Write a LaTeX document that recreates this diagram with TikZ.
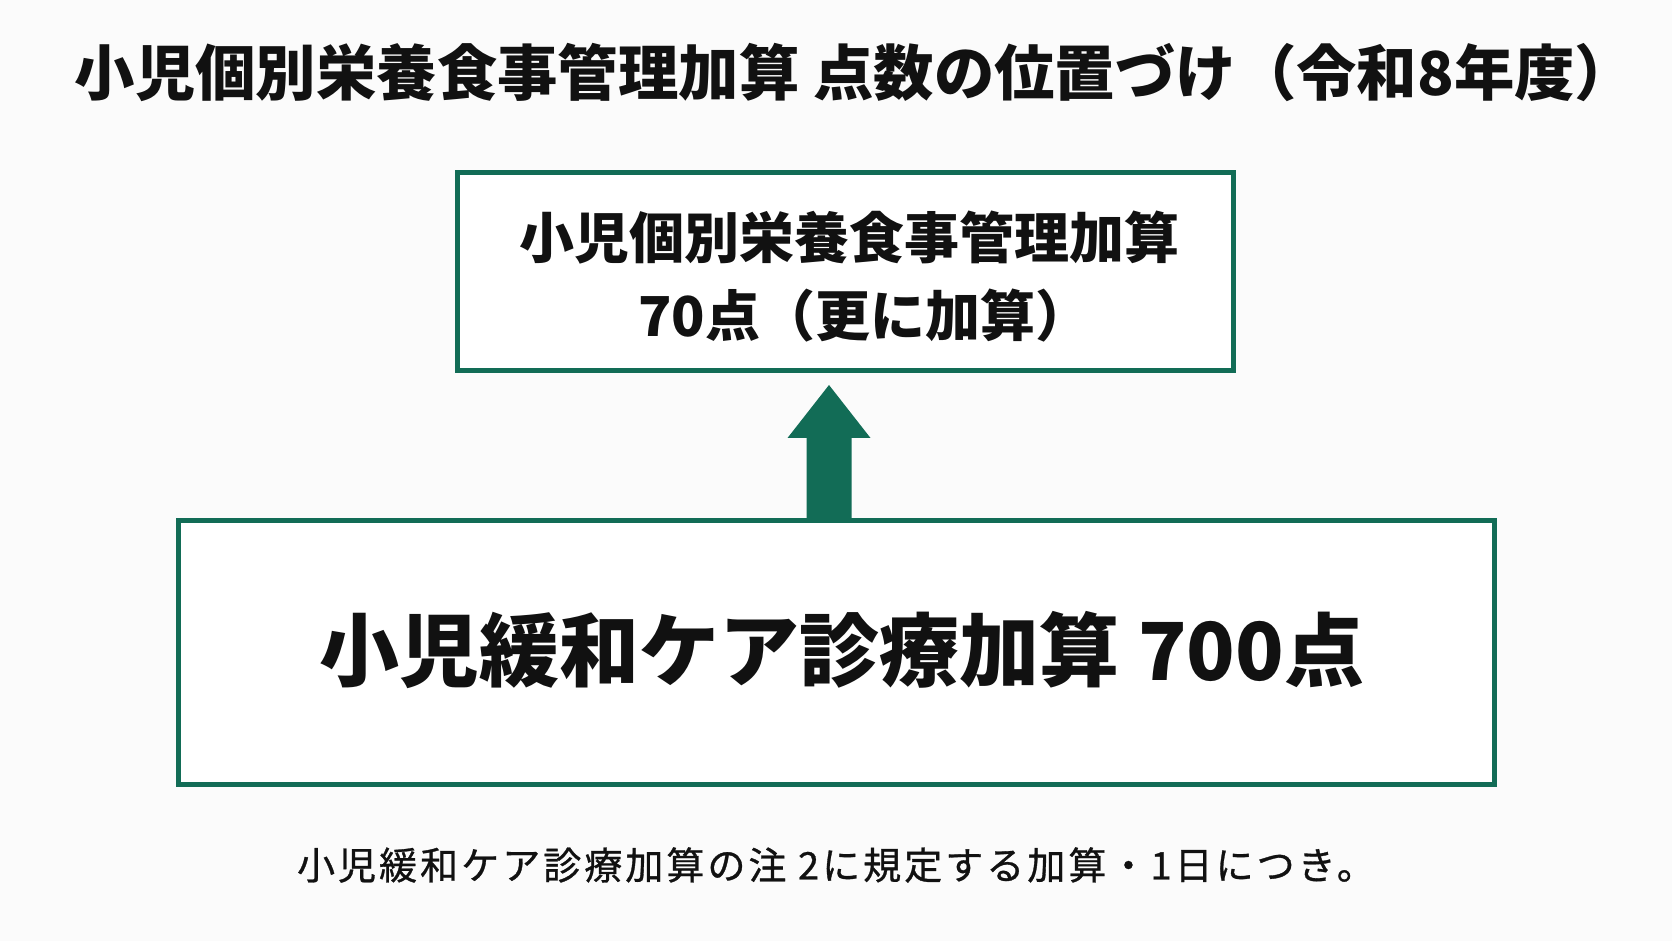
\documentclass[tikz,border=0pt]{standalone}
\usepackage{fontspec}
\usetikzlibrary{calc}
\setmainfont{Noto Sans CJK JP}
\newfontfamily\cjk{Noto Sans CJK JP}
\newfontfamily\cjkfoot[LetterSpace=8,FakeBold=0.8]{Noto Sans CJK JP}
\definecolor{boxgreen}{RGB}{18,108,86}
\definecolor{bgcol}{RGB}{251,251,251}
\definecolor{txt}{RGB}{17,17,17}
\tikzset{
  gbox/.style={draw=boxgreen, line width=2.5pt, fill=white, inner sep=0pt},
  label/.style={text=txt, inner sep=0pt, align=center},
}
\begin{document}
\begin{tikzpicture}[x=0.5pt,y=-0.5pt]
\fill[bgcol] (0,0) rectangle (1672,941);
\useasboundingbox (0,0) rectangle (1672,941);

% title
\node[label, font=\cjk\bfseries\fontsize{30.2pt}{34pt}\selectfont] (title) at (855,72)
  {小児個別栄養食事管理加算 点数の位置づけ（令和8年度）};

% arrow
\coordinate (aS) at (829,521);
\coordinate (aT) at (829,385);
\fill[boxgreen] ($(aS)+(-22.5,0)$) -- ($(aS)+(22.5,0)$) -- ($(aT)+(22.5,53)$)
  -- ($(aT)+(41.5,53)$) -- (aT) -- ($(aT)+(-41.5,53)$) -- ($(aT)+(-22.5,53)$) -- cycle;

% top box
\node[gbox, minimum width=388pt, minimum height=99pt] (top) at (845,272) {};
\node[label, font=\cjk\bfseries\fontsize{27.5pt}{30pt}\selectfont] (topA) at (849,238)
  {小児個別栄養食事管理加算};
\node[label, font=\cjk\bfseries\fontsize{27.5pt}{30pt}\selectfont] (topB) at (864,316)
  {70点（更に加算）};

% bottom box
\node[gbox, minimum width=658pt, minimum height=132pt] (bot) at (836,652) {};
\node[label, font=\cjk\bfseries\fontsize{40pt}{44pt}\selectfont] (botT) at (842,650)
  {小児緩和ケア診療加算 700点};

% footnote
\node[label, font=\cjkfoot\fontsize{19pt}{22pt}\selectfont] (foot) at (836,865)
  {小児緩和ケア診療加算の注 2に規定する加算・1日につき。};
\end{tikzpicture}
\end{document}
